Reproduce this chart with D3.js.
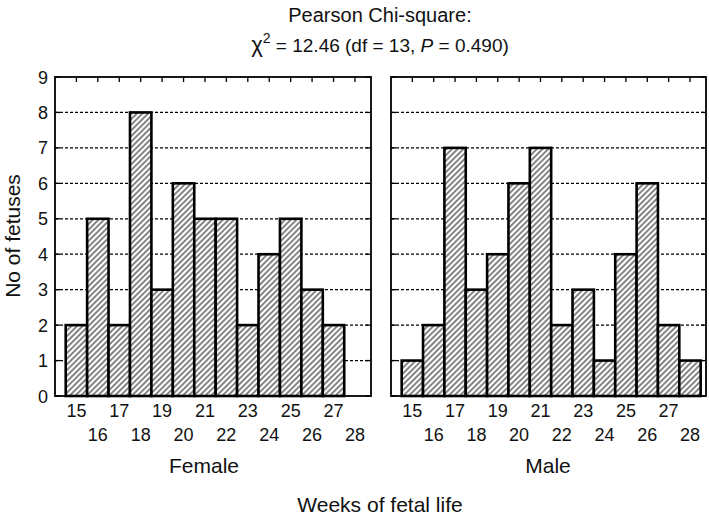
<!DOCTYPE html>
<html><head><meta charset="utf-8">
<script src="https://cdn.jsdelivr.net/npm/d3@7"></script>
<style>body{margin:0;background:#fff}svg{display:block;font-family:"Liberation Sans",Arial,sans-serif}</style>
</head><body><svg id="c" width="709" height="519"></svg>
<script>
const weeks = [15,16,17,18,19,20,21,22,23,24,25,26,27,28];
const female = [2,5,2,8,3,6,5,5,2,4,5,3,2,0];
const male   = [1,2,7,3,4,6,7,2,3,1,4,6,2,1];
const yTicks = [0,1,2,3,4,5,6,7,8,9];
const panelNames = ["Female","Male"];
const titleLine1 = "Pearson Chi-square:";
const xTitle = "Weeks of fetal life";
const yTitle = "No of fetuses";

const svg = d3.select("#c");
const defs = svg.append("defs");
const pat = defs.append("pattern").attr("id","hatch").attr("patternUnits","userSpaceOnUse")
  .attr("width",4).attr("height",4).attr("patternTransform","rotate(45)");
pat.append("rect").attr("width",4).attr("height",4).attr("fill","#fff");
pat.append("line").attr("x1",1).attr("y1",0).attr("x2",1).attr("y2",4).attr("stroke","#333").attr("stroke-width",1.2);

const plotTop = 77, plotBottom = 396;
const y = d3.scaleLinear().domain([0,9]).range([plotBottom, plotTop]);
const panels = [{x0:55,x1:371,data:female,name:panelNames[0],labelX:204},{x0:391,x1:706,data:male,name:panelNames[1],labelX:548}];

panels.forEach(p => {
  const x = d3.scaleLinear().domain([14, 28.75]).range([p.x0, p.x1]);
  const g = svg.append("g");
  g.selectAll("line.grid").data(yTicks.filter(d=>d>0 && d<9)).join("line")
    .attr("x1",p.x0).attr("x2",p.x1).attr("y1",d=>y(d)).attr("y2",d=>y(d))
    .attr("stroke","#000").attr("stroke-width",1.3).attr("stroke-dasharray","3,2");
  g.selectAll("line.lt").data(yTicks).join("line")
    .attr("x1",p.x0).attr("x2",p.x0+5).attr("y1",d=>y(d)).attr("y2",d=>y(d)).attr("stroke","#000").attr("stroke-width",1.3);
  g.selectAll("line.rt").data(yTicks).join("line")
    .attr("x1",p.x1-5).attr("x2",p.x1).attr("y1",d=>y(d)).attr("y2",d=>y(d)).attr("stroke","#000").attr("stroke-width",1.3);
  g.selectAll("line.tt").data(weeks).join("line")
    .attr("x1",d=>x(d)).attr("x2",d=>x(d)).attr("y1",plotTop).attr("y2",plotTop+5).attr("stroke","#000").attr("stroke-width",1.3);
  g.append("rect").attr("x",p.x0).attr("y",plotTop).attr("width",p.x1-p.x0).attr("height",plotBottom-plotTop)
    .attr("fill","none").attr("stroke","#000").attr("stroke-width",1.8);
  g.selectAll("rect.bar").data(weeks.map((w,i)=>({w,v:p.data[i]}))).join("rect")
    .attr("x",d=>x(d.w-0.5)).attr("width",d=>x(d.w+0.5)-x(d.w-0.5))
    .attr("y",d=>y(d.v)).attr("height",d=>y(0)-y(d.v))
    .attr("fill","url(#hatch)").attr("stroke","#000").attr("stroke-width",2.6);
  g.selectAll("text.xl").data(weeks).join("text")
    .attr("x",d=>x(d)).attr("y",(d,i)=> i%2===0 ? 417 : 441)
    .attr("text-anchor","middle").attr("font-size",18).attr("fill","#111").text(d=>d);
  g.append("text").attr("x",p.labelX).attr("y",473).attr("text-anchor","middle").attr("font-size",21).attr("fill","#111").text(p.name);
});

svg.selectAll("text.yl").data(yTicks).join("text")
  .attr("x",48).attr("y",d=>y(d)+6.5).attr("text-anchor","end").attr("font-size",18).attr("fill","#111").text(d=>d);

svg.append("text").attr("transform","translate(20,236) rotate(-90)").attr("text-anchor","middle")
  .attr("font-size",21).attr("fill","#111").text(yTitle);
svg.append("text").attr("x",380).attr("y",512).attr("text-anchor","middle").attr("font-size",21).attr("fill","#111").text(xTitle);

svg.append("text").attr("x",380).attr("y",22).attr("text-anchor","middle").attr("font-size",20).attr("fill","#111").text(titleLine1);
const t2 = svg.append("text").attr("x",380).attr("y",52).attr("text-anchor","middle").attr("font-size",19).attr("fill","#111");
t2.append("tspan").attr("font-size",22).text("χ");
t2.append("tspan").attr("dy",-9).attr("font-size",14).text("2");
t2.append("tspan").attr("dy",9).text(" = 12.46 (df = 13, ");
t2.append("tspan").attr("font-style","italic").text("P");
t2.append("tspan").text(" = 0.490)");
</script></body></html>
